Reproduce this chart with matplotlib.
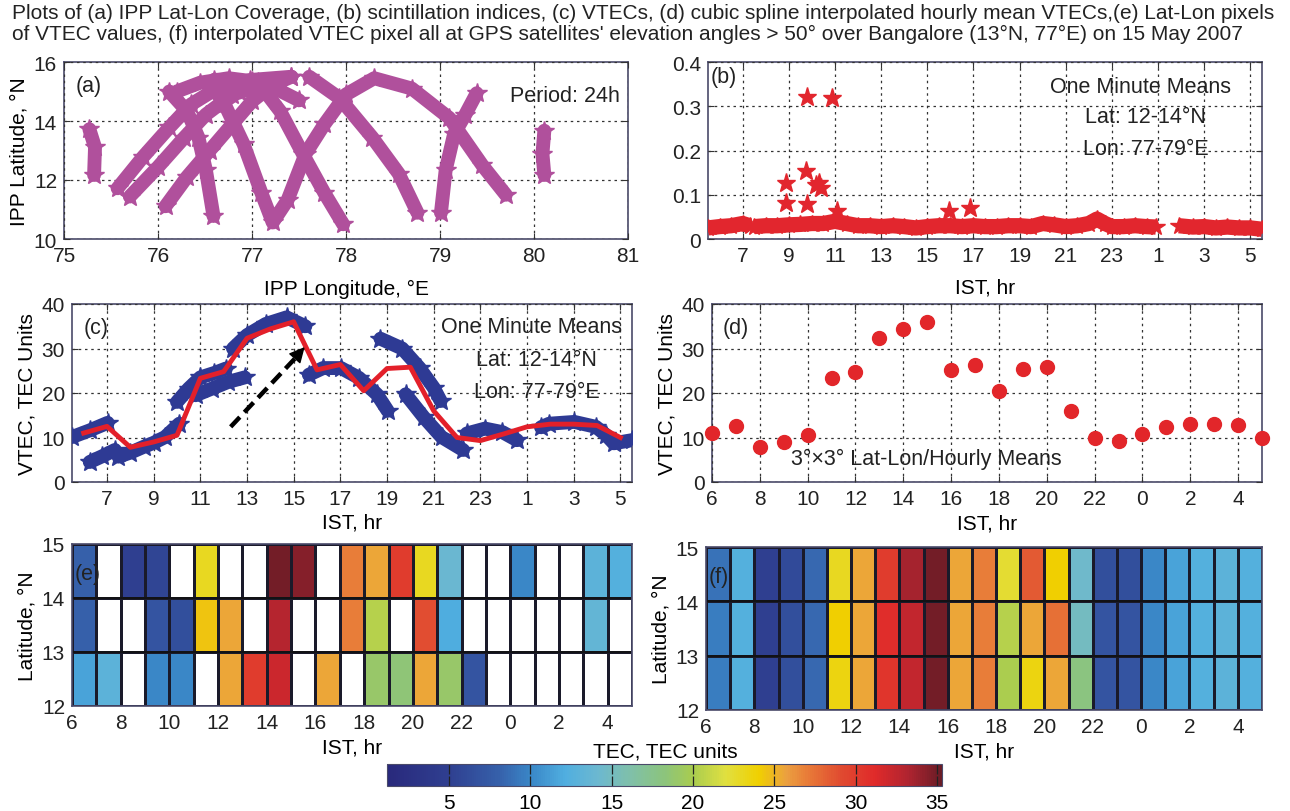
import numpy as np
import matplotlib
matplotlib.use('Agg')
import matplotlib.pyplot as plt
from matplotlib.colors import LinearSegmentedColormap, Normalize
from matplotlib.cm import ScalarMappable

plt.rcParams['font.family'] = ['Liberation Sans', 'DejaVu Sans']

W, H = 1290, 812

# (a) IPP tracks, lon / lat
track_lon = [
    [75.27, 75.33, 75.32],
    [80.11, 80.09, 80.11],
    [75.57, 75.84, 76.12, 76.35, 76.63, 76.98, 77.42],
    [75.70, 76.00, 76.28, 76.51, 76.79, 77.06],
    [76.08, 76.31, 76.55, 76.79, 77.00, 77.22, 77.42],
    [76.12, 76.31, 76.43, 76.51, 76.59],
    [76.59, 76.71, 76.91, 77.10, 77.22, 77.38, 77.57, 77.77, 78.00, 78.30, 78.70, 79.10, 79.45, 79.70],
    [77.61, 77.93, 78.28, 78.56, 78.76],
    [76.60, 77.06, 77.30, 77.54, 77.77, 77.97],
    [79.01, 79.06, 79.15, 79.27, 79.39],
    [76.20, 76.45, 76.75, 77.00, 77.25, 77.50],
]
track_lat = [
    [13.72, 13.11, 12.17],
    [13.67, 12.89, 12.17],
    [11.72, 12.78, 13.78, 14.56, 15.11, 15.39, 15.50],
    [11.44, 12.44, 13.44, 14.22, 14.89, 15.17],
    [11.11, 12.11, 13.00, 13.89, 14.67, 15.22, 15.50],
    [15.00, 14.33, 13.44, 12.33, 10.78],
    [15.11, 14.56, 13.22, 11.56, 10.56, 11.33, 12.89, 13.89, 14.90, 15.45, 15.10, 14.10, 12.50, 11.50],
    [15.50, 14.78, 13.44, 12.22, 10.89],
    [15.40, 15.33, 14.33, 12.89, 11.56, 10.50],
    [10.89, 12.33, 13.56, 14.22, 14.94],
    [15.00, 15.30, 15.45, 15.35, 15.10, 14.70],
]

# (b) scintillation index band (one minute means) and outliers
s4_hours = [
    [5.5, 6.0, 6.5, 7.0, 7.3],
    [7.5, 8.0, 8.5, 9.0, 9.5, 10.0, 10.5, 11.0, 11.5, 12.0, 12.5, 13.0, 13.5,
     14.0, 14.5, 15.0, 15.5, 16.0, 16.5, 17.0, 17.5, 18.0, 18.5, 19.0, 19.5,
     20.0, 20.5, 21.0, 21.5, 22.0, 22.35, 22.7, 23.0, 23.5, 24.0, 24.5, 24.9],
    [25.9, 26.5, 27.0, 27.5, 28.0, 28.5, 29.0, 29.5],
]
s4_values = [
    [0.025, 0.028, 0.030, 0.035, 0.030],
    [0.028, 0.030, 0.030, 0.032, 0.033, 0.035, 0.035, 0.040, 0.035, 0.030,
     0.030, 0.028, 0.030, 0.028, 0.025, 0.028, 0.030, 0.030, 0.028, 0.030,
     0.028, 0.028, 0.030, 0.030, 0.028, 0.035, 0.032, 0.028, 0.030, 0.035,
     0.045, 0.035, 0.028, 0.028, 0.030, 0.028, 0.027],
    [0.030, 0.027, 0.028, 0.025, 0.027, 0.025, 0.025, 0.022],
]
s4_out_hours = [9.77, 10.86, 9.73, 8.88, 10.16, 10.30, 10.40, 8.90, 9.77, 15.94, 16.84, 11.10]
s4_out_values = [0.321, 0.318, 0.153, 0.127, 0.123, 0.127, 0.115, 0.082, 0.078, 0.063, 0.069, 0.063]

# (c) VTEC tracks (one minute means)
vtec_hours = [
    [5.5, 6.26, 7.03],
    [6.26, 6.8, 7.34],
    [7.49, 8.0, 8.57, 9.0, 9.49, 10.1],
    [10.0, 10.5, 11.0, 11.6, 12.1],
    [10.8, 11.5, 12.2, 12.9],
    [12.4, 13.0, 13.8, 14.7, 15.5],
    [15.65, 16.26, 17.03, 17.8, 18.57, 19.03],
    [18.72, 19.65, 20.4, 21.0, 21.3],
    [19.8, 20.57, 21.34, 22.26],
    [22.42, 23.2, 23.95, 24.57],
    [25.6, 25.95, 27.03, 27.95, 28.4, 28.72, 29.5],
]
vtec_values = [
    [10.1, 11.6, 13.3],
    [4.5, 5.8, 7.2],
    [5.7, 6.6, 7.9, 8.8, 10.1, 13.1],
    [18.0, 21.0, 23.5, 24.5, 25.5],
    [19.5, 21.0, 22.5, 23.5],
    [30.0, 33.0, 35.5, 37.0, 35.0],
    [24.1, 25.6, 25.6, 23.4, 19.7, 16.0],
    [32.2, 30.0, 25.6, 21.2, 18.2],
    [19.7, 14.6, 10.1, 7.2],
    [10.9, 12.0, 11.2, 9.4],
    [12.3, 13.1, 13.5, 12.4, 10.5, 8.7, 9.4],
]

# (c)/(d) hourly means
hours = list(range(6, 30))
hourly_vtec = [11.0, 12.5, 7.8, 9.0, 10.5, 23.3, 24.8, 32.3, 34.4, 36.0, 25.2, 26.4,
               20.5, 25.5, 25.8, 16.0, 10.0, 9.3, 10.8, 12.4, 13.0, 13.0, 12.7, 10.0]

nan = np.nan
# (e) lat-lon pixel VTEC, rows 12-13, 13-14, 14-15 ; columns 6..28 IST
pix_12 = [11.5, 13.0, nan, 10.0, 10.0, nan, 25.5, 30.0, 32.0, nan, 25.5, nan,
          19.0, 18.5, 25.5, 19.0, 7.0, nan, nan, nan, nan, nan, nan]
pix_13 = [8.0, nan, nan, 7.0, 6.5, 24.5, 25.5, nan, 33.0, nan, nan, 27.0,
          20.5, nan, 29.0, 12.0, nan, nan, nan, nan, nan, 13.5, nan]
pix_14 = [8.0, nan, 5.0, 5.5, nan, 23.0, nan, nan, 35.0, 34.5, nan, 27.0,
          25.5, 30.0, 23.0, 14.0, nan, nan, 10.0, nan, nan, 13.0, 12.5]
# (f) interpolated pixels
interp_12 = [9.5, 12.5, 5.0, 6.5, 8.5, 23.5, 25.5, 30.5, 32.5, 35.0, 25.5, 27.0,
             20.0, 23.5, 25.5, 18.0, 7.0, 7.0, 10.0, 11.5, 12.5, 13.0, 12.5]
interp_13 = [9.5, 12.5, 5.0, 6.5, 8.5, 24.0, 25.5, 31.0, 32.5, 35.0, 25.5, 27.0,
             20.5, 25.5, 27.5, 15.0, 7.0, 7.0, 10.0, 11.5, 12.5, 13.0, 12.5]
interp_14 = [9.0, 12.5, 5.0, 6.0, 8.5, 23.0, 25.5, 30.0, 33.5, 35.0, 25.5, 27.0,
             22.5, 28.5, 24.0, 14.5, 6.5, 6.5, 10.0, 11.5, 12.5, 13.0, 12.5]
pix_hour_edges = list(range(6, 30))
pix_lat_edges = [12, 13, 14, 15]

ist_ticks = list(range(7, 30, 2))
ist_labels = [str(h % 24) for h in ist_ticks]
ist_ticks_even = list(range(6, 29, 2))
ist_labels_even = [str(h % 24) for h in ist_ticks_even]

cmap_stops = [(0.00, '#29297c'), (0.11, '#2f3f90'), (0.20, '#3660aa'), (0.26, '#3a88c8'),
              (0.32, '#50aee0'), (0.38, '#6cb8d0'), (0.44, '#80c0a8'), (0.50, '#8cc47c'),
              (0.55, '#a8cc50'), (0.61, '#e0e040'), (0.67, '#f0d000'), (0.72, '#eba040'),
              (0.76, '#e87a38'), (0.82, '#e04a30'), (0.88, '#e02a2a'), (0.94, '#b02430'),
              (1.00, '#6a1c26')]
tec_cmap = LinearSegmentedColormap.from_list('tec', cmap_stops)
tec_cmap.set_bad('white')
tec_norm = Normalize(vmin=1.2, vmax=35.3)

TICK_FS = 15
LABEL_FS = 15
NOTE_FS = 15.5
GRID_KW = dict(color='#333333', linestyle=(0, (2, 3)), linewidth=0.9)


def px_rect(l, t, r, b):
    return [l / W, 1 - b / H, (r - l) / W, (b - t) / H]


def style(ax, grid=True):
    for s in ax.spines.values():
        s.set_color('#4a4a6a')
        s.set_linewidth(1.2)
    ax.tick_params(direction='in', length=4, width=0.8, top=True, right=True,
                   labelsize=TICK_FS, pad=5, color='#333333', labelcolor='#222222')
    if grid:
        ax.grid(True, **GRID_KW)
        ax.set_axisbelow(False)


def note(ax, x, y, s, ha='center'):
    ax.text(x, y, s, transform=ax.transAxes, fontsize=NOTE_FS, ha=ha, va='center',
            color='#222222')


fig = plt.figure(figsize=(W / 100, H / 100), dpi=100)

fig.text(0.009, 0.995,
         "Plots of (a) IPP Lat-Lon Coverage, (b) scintillation indices, (c) VTECs, (d) cubic spline "
         "interpolated hourly mean VTECs,(e) Lat-Lon pixels\nof VTEC values, (f) interpolated VTEC pixel "
         "all at GPS satellites' elevation angles > 50\u00b0 over Bangalore (13\u00b0N, 77\u00b0E) on 15 May 2007",
         ha='left', va='top', fontsize=15, linespacing=1.1, color='#222222')

# (a)
ax_a = fig.add_axes(px_rect(64, 63, 628, 240))
for lon, lat in zip(track_lon, track_lat):
    ax_a.plot(lon, lat, color='#b0509c', lw=10, solid_capstyle='round',
              solid_joinstyle='round', marker='*', ms=15, zorder=3)
ax_a.set_xlim(75, 81)
ax_a.set_ylim(10, 16)
ax_a.set_xticks(range(75, 82))
ax_a.set_yticks([10, 12, 14, 16])
style(ax_a)
ax_a.set_xlabel('IPP Longitude, \u00b0E', fontsize=LABEL_FS, labelpad=10)
ax_a.set_ylabel('IPP Latitude, \u00b0N', fontsize=LABEL_FS, labelpad=4)
note(ax_a, 0.02, 0.87, '(a)', ha='left')
note(ax_a, 0.985, 0.81, 'Period: 24h', ha='right')

# (b)
ax_b = fig.add_axes(px_rect(708, 63, 1262, 240))
for hh, vv in zip(s4_hours, s4_values):
    ax_b.plot(hh, vv, color='#e2262e', lw=11, solid_capstyle='butt',
              marker='*', ms=13, zorder=3)
ax_b.plot(s4_out_hours, s4_out_values, ls='none', marker='*', ms=14, color='#e2262e', zorder=3)
ax_b.set_xlim(5.5, 29.5)
ax_b.set_ylim(0, 0.4)
ax_b.set_xticks(ist_ticks)
ax_b.set_xticklabels(ist_labels)
ax_b.set_yticks([0, 0.1, 0.2, 0.3, 0.4])
ax_b.set_yticklabels(['0', '0.1', '0.2', '0.3', '0.4'])
style(ax_b)
ax_b.set_xlabel('IST, hr', fontsize=LABEL_FS, labelpad=9)
note(ax_b, 0.005, 0.92, '(b)', ha='left')
note(ax_b, 0.78, 0.86, 'One Minute Means')
note(ax_b, 0.79, 0.69, 'Lat: 12-14\u00b0N')
note(ax_b, 0.79, 0.51, 'Lon: 77-79\u00b0E')

# (c)
ax_c = fig.add_axes(px_rect(72, 305, 632, 483))
for hh, vv in zip(vtec_hours, vtec_values):
    ax_c.plot(hh, vv, color='#2e3a94', lw=10, solid_capstyle='round',
              solid_joinstyle='round', marker='*', ms=15, zorder=3)
ax_c.plot(hours, hourly_vtec, color='#e3202a', lw=3.5, zorder=4)
ax_c.plot([12.3, 15.1], [12.4, 28.0], color='k', lw=3.2, ls=(0, (3, 1.5)), zorder=5)
ax_c.annotate('', xy=(15.55, 30.8), xytext=(15.0, 27.5),
              arrowprops=dict(arrowstyle='-|>', color='k', lw=1, mutation_scale=24), zorder=5)
ax_c.set_xlim(5.5, 29.5)
ax_c.set_ylim(0, 40)
ax_c.set_xticks(ist_ticks)
ax_c.set_xticklabels(ist_labels)
ax_c.set_yticks([0, 10, 20, 30, 40])
style(ax_c)
ax_c.set_xlabel('IST, hr', fontsize=LABEL_FS, labelpad=3)
ax_c.set_ylabel('VTEC, TEC Units', fontsize=LABEL_FS, labelpad=4)
note(ax_c, 0.02, 0.87, '(c)', ha='left')
note(ax_c, 0.82, 0.876, 'One Minute Means')
note(ax_c, 0.83, 0.69, 'Lat: 12-14\u00b0N')
note(ax_c, 0.83, 0.51, 'Lon: 77-79\u00b0E')

# (d)
ax_d = fig.add_axes(px_rect(712, 305, 1262, 483))
ax_d.plot(hours, hourly_vtec, ls='none', marker='o', ms=10, color='#e2262a',
          markeredgecolor='#e2262a', clip_on=False, zorder=4)
ax_d.set_xlim(6, 29)
ax_d.set_ylim(0, 40)
ax_d.set_xticks(ist_ticks_even)
ax_d.set_xticklabels(ist_labels_even)
ax_d.set_yticks([0, 10, 20, 30, 40])
style(ax_d)
ax_d.set_xlabel('IST, hr', fontsize=LABEL_FS, labelpad=4)
ax_d.set_ylabel('VTEC, TEC Units', fontsize=LABEL_FS, labelpad=4)
note(ax_d, 0.02, 0.87, '(d)', ha='left')
note(ax_d, 0.39, 0.13, '3\u00b0\u00d73\u00b0 Lat-Lon/Hourly Means')

# (e) and (f)
for rect, rows, tag in [((72, 545, 632, 707), [pix_12, pix_13, pix_14], '(e)'),
                        ((706, 548, 1262, 711), [interp_12, interp_13, interp_14], '(f)')]:
    ax = fig.add_axes(px_rect(*rect))
    grid_vals = np.ma.masked_invalid(np.array(rows, dtype=float))
    ax.pcolormesh(pix_hour_edges, pix_lat_edges, grid_vals, cmap=tec_cmap, norm=tec_norm,
                  edgecolors='#1a1a2a', linewidth=0.8)
    for lat in [13, 14]:
        ax.axhline(lat, color='#111111', lw=1.2)
    ax.set_xlim(6, 29)
    ax.set_ylim(12, 15)
    ax.set_xticks(ist_ticks_even)
    ax.set_xticklabels(ist_labels_even)
    ax.set_yticks([12, 13, 14, 15])
    style(ax, grid=False)
    ax.tick_params(length=0)
    ax.set_xlabel('IST, hr', fontsize=LABEL_FS, labelpad=4)
    ax.set_ylabel('Latitude, \u00b0N', fontsize=LABEL_FS, labelpad=4)
    note(ax, 0.005, 0.82, tag, ha='left')

# colour bar
ax_cb = fig.add_axes(px_rect(387, 765, 942, 787))
cb = fig.colorbar(ScalarMappable(norm=tec_norm, cmap=tec_cmap), cax=ax_cb,
                  orientation='horizontal')
cb.set_ticks([5, 10, 15, 20, 25, 30, 35])
cb.outline.set_edgecolor('#4a4a6a')
ax_cb.tick_params(direction='in', length=7, width=0.9, top=True, bottom=True,
                  labelsize=TICK_FS, color='#222222', pad=5)
fig.text(665 / W, 1 - 752 / H, 'TEC, TEC units', ha='center', va='center', fontsize=LABEL_FS)

fig.savefig('out.png', dpi=100)
